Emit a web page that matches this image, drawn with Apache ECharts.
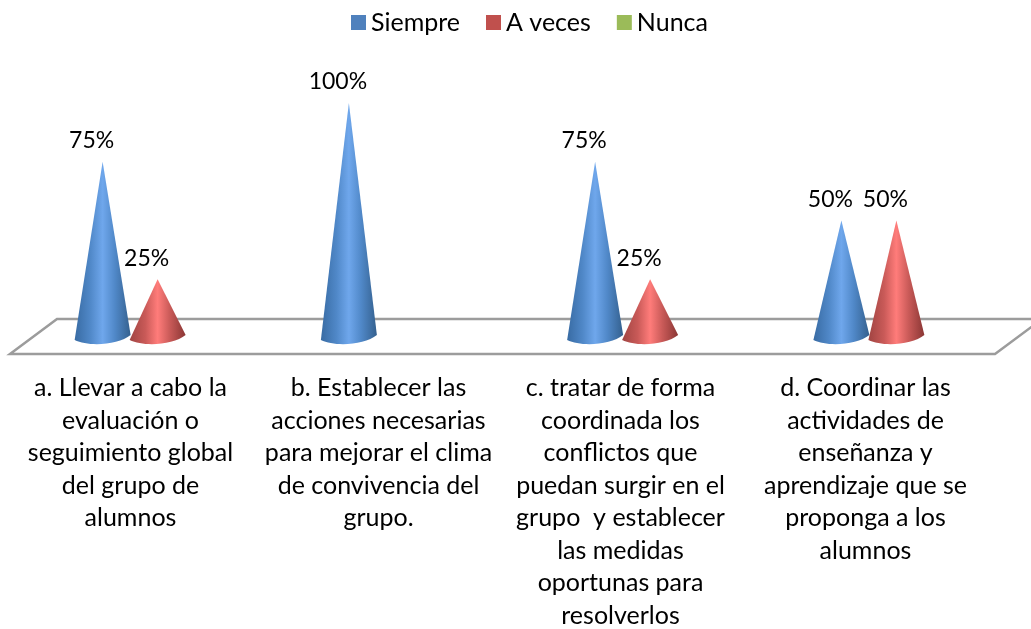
<!DOCTYPE html>
<html>
<head>
<meta charset="utf-8">
<style>
  html, body { margin: 0; padding: 0; background: #fff; }
  #main { width: 1031px; height: 629px; }
</style>
<script src="https://cdn.jsdelivr.net/npm/echarts@6/dist/echarts.min.js"></script>
</head>
<body>
<div id="main"></div>
<script>
  const categories = [
    'a. Llevar a cabo la\nevaluación o\nseguimiento global\ndel grupo de\nalumnos',
    'b. Establecer las\nacciones necesarias\npara mejorar el clima\nde convivencia del\ngrupo.',
    'c. tratar de forma\ncoordinada los\nconflictos que\npuedan surgir en el\ngrupo  y establecer\nlas medidas\noportunas para\nresolverlos',
    'd. Coordinar las\nactividades de\nenseñanza y\naprendizaje que se\nproponga a los\nalumnos'
  ];
  const siempre = [75, 100, 75, 50];
  const aVeces = [25, 0, 25, 50];
  const nunca = [0, 0, 0, 0];

  const FONT = 'Lato, "Open Sans", sans-serif';

  // cone shading per series, dark edge -> light middle -> dark edge
  function coneFill(dark, mid, light, darker) {
    return {
      type: 'linear', x: 0, y: 0, x2: 1, y2: 0,
      colorStops: [
        {offset: 0, color: dark},
        {offset: 0.28, color: mid},
        {offset: 0.5, color: light},
        {offset: 0.72, color: mid},
        {offset: 1, color: darker}
      ]
    };
  }

  function coneSeries(name, values, color, fill, offset) {
    return {
      name: name,
      type: 'custom',
      xAxisIndex: 0,
      yAxisIndex: 0,
      z: 3,
      itemStyle: {color: color},
      data: values.map((v, i) => [i, v]),
      renderItem(params, api) {
        const v = api.value(1);
        if (!v) return null;
        const tip = api.coord([api.value(0), v]);
        const base = api.coord([api.value(0), 0]);
        const cx = tip[0] + offset;
        const r = 28;
        const d = 'M' + cx + ' ' + tip[1] +
          'L' + (cx + r) + ' ' + (base[1] - 3) +
          'C' + (cx + 16) + ' ' + (base[1] + 7) + ' ' + (cx - 14) + ' ' + (base[1] + 9) + ' ' + (cx - r) + ' ' + (base[1] + 2) + 'Z';
        return {
          type: 'group',
          children: [
            {
              type: 'path',
              shape: {pathData: d},
              style: {fill: fill}
            },
            {
              type: 'text',
              style: {
                text: v + '%',
                x: cx - 11,
                y: tip[1] - 21,
                align: 'center',
                verticalAlign: 'middle',
                fill: '#000',
                font: '23px ' + FONT
              }
            }
          ]
        };
      }
    };
  }

  // the grey floor of the 3d plot, taken from the plot rectangle
  const floorSeries = {
    type: 'custom',
    xAxisIndex: 0,
    yAxisIndex: 0,
    z: 1,
    silent: true,
    data: [[0, 0]],
    renderItem(params, api) {
      const c = params.coordSys;
      const y0 = api.coord([0, 0])[1];
      const front = y0 + 16;
      const back = y0 - 19;
      return {
        type: 'polygon',
        shape: {points: [[c.x, front], [c.x + 47, back], [c.x + c.width + 47, back], [c.x + c.width, front]]},
        style: {fill: '#fff', stroke: '#9c9c9c', lineWidth: 2.5}
      };
    }
  };

  const chart = echarts.init(document.getElementById('main'));
  chart.setOption({
    animation: false,
    backgroundColor: '#fff',
    legend: {
      data: ['Siempre', 'A veces', 'Nunca'],
      left: 346,
      top: 5,
      icon: 'rect',
      itemWidth: 15,
      itemHeight: 15,
      itemGap: 26,
      textStyle: {fontFamily: FONT, fontSize: 25, color: '#000'}
    },
    grid: [
      {left: 10, width: 985, top: 103, height: 235, outerBoundsMode: 'none'},
      {left: 8, width: 980, top: 340, height: 10, outerBoundsMode: 'none'}
    ],
    xAxis: [
      {type: 'category', gridIndex: 0, data: categories, axisLine: {show: false}, axisTick: {show: false}, axisLabel: {show: false}},
      {
        type: 'category',
        gridIndex: 1,
        // second label sits a little right of its band in the original
        data: categories.map((value, i) => i === 1 ? {value: value, textStyle: {padding: [0, 0, 0, 6]}} : value),
        axisLine: {show: false},
        axisTick: {show: false},
        axisLabel: {
          interval: 0,
          margin: 22,
          fontFamily: FONT,
          fontSize: 25,
          lineHeight: 32.5,
          color: '#000'
        }
      }
    ],
    yAxis: [
      {type: 'value', gridIndex: 0, min: 0, max: 100, show: false},
      {type: 'value', gridIndex: 1, min: 0, max: 100, show: false}
    ],
    series: [
      floorSeries,
      coneSeries('Siempre', siempre, '#4f81bd', coneFill('#386ba3', '#5088c8', '#6fa7ec', '#34608e'), -30.5),
      coneSeries('A veces', aVeces, '#c0504d', coneFill('#a04442', '#c95a58', '#ff7c7a', '#8a3634'), 24.5),
      coneSeries('Nunca', nunca, '#9bbb59', coneFill('#7f9a48', '#a0c05c', '#c4e870', '#6f8a3c'), 79.5)
    ]
  });
</script>
</body>
</html>
